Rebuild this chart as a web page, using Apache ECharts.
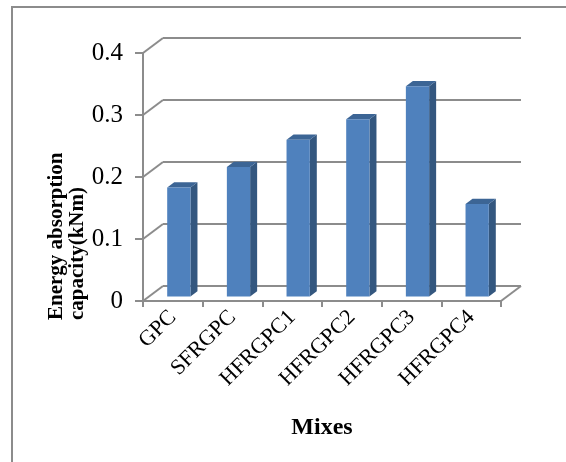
<!DOCTYPE html>
<html>
<head>
<meta charset="utf-8">
<script src="https://cdn.jsdelivr.net/npm/echarts@6/dist/echarts.min.js"></script>
<style>
  html, body { margin: 0; padding: 0; background: #fff; }
  #chart { width: 566px; height: 462px; }
</style>
</head>
<body>
<div id="chart"></div>
<script>
var mixes = ['GPC', 'SFRGPC', 'HFRGPC1', 'HFRGPC2', 'HFRGPC3', 'HFRGPC4'];
var energy = [0.176, 0.209, 0.253, 0.286, 0.339, 0.149];
var yTicks = [0, 0.1, 0.2, 0.3, 0.4];

// depth of the fake 3d box (back wall offset)
var DX = 20, DY = -15;
var gridColor = '#8c8c8c';
var serif = '"Liberation Serif", "Times New Roman", serif';

var myChart = echarts.init(document.getElementById('chart'));

var option = {
  backgroundColor: '#fff',
  animation: false,
  grid: [
    {left: 143, right: 65, top: 53, bottom: 161},
    {left: 143 + DX, right: 65 - DX, top: 53 + DY, bottom: 161 - DY}
  ],
  xAxis: [
    {
      type: 'category',
      gridIndex: 0,
      data: mixes,
      axisLine: {lineStyle: {color: gridColor, width: 2}},
      axisTick: {show: true, length: 6, lineStyle: {color: gridColor, width: 2}},
      axisLabel: {
        rotate: 45,
        interval: 0,
        margin: 13,
        color: '#000',
        fontSize: 22,
        fontFamily: serif
      },
      name: 'Mixes',
      nameLocation: 'middle',
      nameGap: 115,
      nameTextStyle: {
        color: '#000',
        fontSize: 24,
        fontWeight: 'bold',
        fontFamily: serif
      }
    },
    {
      type: 'category',
      gridIndex: 1,
      data: mixes,
      show: false
    }
  ],
  yAxis: [
    {
      type: 'value',
      gridIndex: 0,
      min: 0,
      max: 0.4,
      interval: 0.1,
      axisLine: {show: true, lineStyle: {color: gridColor, width: 2}},
      axisTick: {show: true, length: 8, lineStyle: {color: gridColor, width: 2}},
      splitLine: {show: false},
      axisLabel: {
        margin: 20,
        color: '#000',
        fontSize: 25,
        fontFamily: serif
      }
    },
    {
      type: 'value',
      gridIndex: 1,
      min: 0,
      max: 0.4,
      interval: 0.1,
      axisLine: {show: false},
      axisTick: {show: false},
      axisLabel: {show: false},
      splitLine: {show: true, lineStyle: {color: gridColor, width: 2}}
    }
  ],
  graphic: [
    {
      type: 'rect',
      shape: {x: 12, y: 7, width: 600, height: 500},
      style: {fill: 'none', stroke: '#8c8c8c', lineWidth: 2},
      silent: true
    },
    {
      type: 'text',
      x: 46,
      y: 320,
      rotation: Math.PI / 2,
      style: {
        text: 'Energy absorption\ncapacity(kNm)',
        fill: '#000',
        font: 'bold 21px ' + serif,
        align: 'left',
        verticalAlign: 'top',
        lineHeight: 21
      }
    }
  ],
  series: [
    {
      // side wall + floor edges
      type: 'custom',
      xAxisIndex: 0,
      yAxisIndex: 0,
      silent: true,
      z: 1,
      data: yTicks.map(function (v) { return [0, v]; }),
      encode: {x: 0, y: 1},
      renderItem: function (params, api) {
        var cs = params.coordSys;
        var y = api.coord([0, api.value(1)])[1];
        var style = {stroke: gridColor, lineWidth: 2, fill: null};
        var children = [{
          type: 'line',
          shape: {x1: cs.x, y1: y, x2: cs.x + DX, y2: y + DY},
          style: style
        }];
        if (api.value(1) === 0) {
          children.push({
            type: 'line',
            shape: {x1: cs.x + cs.width, y1: y, x2: cs.x + cs.width + DX, y2: y + DY},
            style: style
          });
        }
        return {type: 'group', children: children};
      }
    },
    {
      type: 'custom',
      name: 'Energy absorption capacity',
      xAxisIndex: 0,
      yAxisIndex: 0,
      z: 3,
      data: energy.map(function (v, i) { return [i, v]; }),
      encode: {x: 0, y: 1},
      renderItem: function (params, api) {
        var i = api.value(0), v = api.value(1);
        var c0 = api.coord([i, 0]);
        var c1 = api.coord([i, v]);
        var band = api.size([1, 0])[0];
        var w = band * 0.39;
        var fx = DX * 0.3, fy = DY * 0.3;
        var dx = DX * 0.35, dy = DY * 0.35;
        var left = c0[0] - w / 2 + fx, right = left + w;
        var bottom = c0[1] + fy, top = c1[1] + fy;
        return {
          type: 'group',
          children: [
            {
              type: 'polygon',
              shape: {points: [[right, bottom], [right + dx, bottom + dy], [right + dx, top + dy], [right, top]]},
              style: {fill: '#34577f'}
            },
            {
              type: 'polygon',
              shape: {points: [[left, top], [left + dx, top + dy], [right + dx, top + dy], [right, top]]},
              style: {fill: '#3c6595'}
            },
            {
              type: 'rect',
              shape: {x: left, y: top, width: w, height: bottom - top},
              style: {fill: '#4f81bd'}
            }
          ]
        };
      }
    }
  ]
};

myChart.setOption(option);
</script>
</body>
</html>
